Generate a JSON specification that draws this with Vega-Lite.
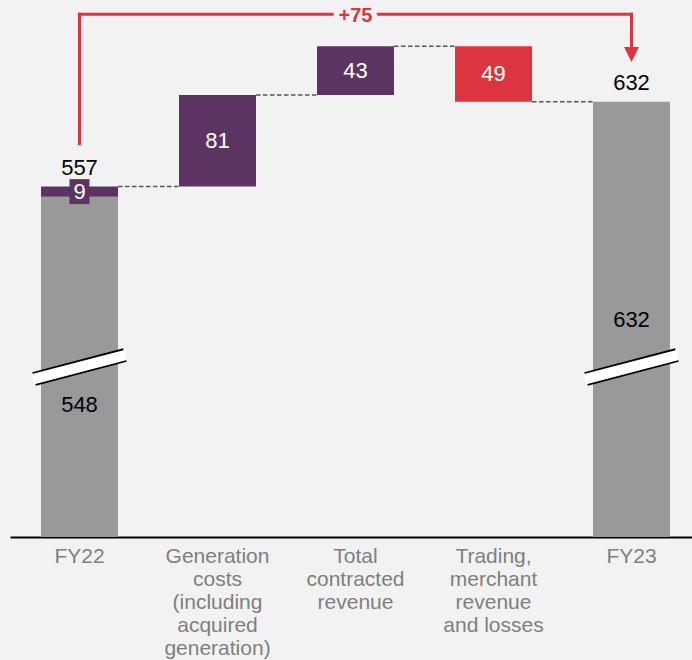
{
  "$schema": "https://vega.github.io/schema/vega-lite/v6.json",
  "width": 682,
  "height": 537,
  "autosize": {"type": "none"},
  "padding": {"left": 10, "top": 0, "right": 0, "bottom": 123},
  "background": "#f2f2f2",
  "config": {"view": {"stroke": null}, "font": "Liberation Sans"},
  "datasets": {
    "bars": [
      {"step": 1, "cat": "FY22", "start": 0, "end": 548, "amount": 548, "kind": "total"},
      {"step": 2, "cat": "FY22", "start": 548, "end": 557, "amount": 9, "kind": "up"},
      {"step": 3, "cat": "Generation\ncosts\n(including\nacquired\ngeneration)", "start": 557, "end": 638, "amount": 81, "kind": "up"},
      {"step": 4, "cat": "Total\ncontracted\nrevenue", "start": 638, "end": 681, "amount": 43, "kind": "up"},
      {"step": 5, "cat": "Trading,\nmerchant\nrevenue\nand losses", "start": 681, "end": 632, "amount": 49, "kind": "down"},
      {"step": 6, "cat": "FY23", "start": 0, "end": 632, "amount": 632, "kind": "total"}
    ],
    "change": [
      {"from": "FY22", "to": "FY23", "label": "+75"}
    ]
  },
  "layer": [
    {
      "data": {"name": "bars"},
      "mark": {"type": "bar"},
      "encoding": {
        "x": {
          "field": "cat", "type": "nominal", "title": null,
          "scale": {
            "domain": ["FY22", "Generation\ncosts\n(including\nacquired\ngeneration)", "Total\ncontracted\nrevenue", "Trading,\nmerchant\nrevenue\nand losses", "FY23"],
            "paddingInner": 0.442, "paddingOuter": 0.192, "align": 0.585, "round": false
          },
          "axis": {
            "domainColor": "#000000", "domainWidth": 2, "ticks": false, "labelAngle": 0,
            "labelFont": "Liberation Sans", "labelFontSize": 21, "labelLineHeight": 23,
            "labelColor": "#7f7f7f", "labelPadding": 8, "labelExpr": "split(datum.value, '\\n')",
            "labelLimit": 0, "labelOverlap": false, "labelBaseline": "top"
          }
        },
        "y": {"field": "start", "type": "quantitative", "title": null, "axis": null,
              "scale": {"domain": [247, 722], "clamp": true, "zero": false, "nice": false}},
        "y2": {"field": "end"},
        "color": {"field": "kind", "type": "nominal", "legend": null,
                  "scale": {"domain": ["total", "up", "down"], "range": ["#999999", "#5c3462", "#de3440"]}}
      }
    },
    {
      "data": {"name": "bars"},
      "transform": [{"filter": "datum.step == 2"}, {"calculate": "(datum.start + datum.end) / 2", "as": "mid"}],
      "mark": {"type": "point", "filled": true, "shape": "M-1,-1.25L1,-1.25L1,1.25L-1,1.25Z", "size": 400, "color": "#5c3462", "opacity": 1, "strokeWidth": 0},
      "encoding": {
        "x": {"field": "cat", "type": "nominal", "title": null},
        "y": {"field": "mid", "type": "quantitative", "axis": null, "title": null}
      }
    },
    {
      "data": {"name": "bars"},
      "transform": [
        {"filter": "datum.step != 1"},
        {"window": [{"op": "lead", "field": "cat", "as": "next"}], "sort": [{"field": "step"}]},
        {"filter": "datum.next != null"}
      ],
      "mark": {"type": "rule", "color": "#555555", "strokeWidth": 1.5, "strokeDash": [4.5, 2.5]},
      "encoding": {
        "x": {"field": "cat", "type": "nominal", "title": null, "bandPosition": 1},
        "x2": {"field": "next", "bandPosition": 0},
        "y": {"field": "end", "type": "quantitative", "axis": null, "title": null}
      }
    },
    {
      "data": {"name": "bars"},
      "transform": [{"filter": "datum.kind != 'total'"}, {"calculate": "(datum.start + datum.end) / 2", "as": "mid"}],
      "mark": {"type": "text", "color": "#ffffff", "fontSize": 22, "font": "Liberation Sans", "baseline": "middle"},
      "encoding": {
        "x": {"field": "cat", "type": "nominal", "title": null},
        "y": {"field": "mid", "type": "quantitative", "axis": null, "title": null},
        "text": {"field": "amount", "type": "quantitative"}
      }
    },
    {
      "data": {"name": "bars"},
      "transform": [
        {"filter": "datum.cat == 'FY22' || datum.cat == 'FY23'"},
        {"aggregate": [{"op": "max", "field": "end", "as": "total"}], "groupby": ["cat"]}
      ],
      "mark": {"type": "text", "color": "#000000", "fontSize": 22, "font": "Liberation Sans", "baseline": "alphabetic", "dy": -11.5},
      "encoding": {
        "x": {"field": "cat", "type": "nominal", "title": null},
        "y": {"field": "total", "type": "quantitative", "axis": null, "title": null},
        "text": {"field": "total", "type": "quantitative"}
      }
    },
    {
      "data": {"name": "bars"},
      "transform": [{"filter": "datum.step == 1"}],
      "mark": {"type": "text", "color": "#000000", "fontSize": 22, "font": "Liberation Sans", "baseline": "middle", "dy": 38},
      "encoding": {
        "x": {"field": "cat", "type": "nominal", "title": null},
        "y": {"datum": 397.5, "type": "quantitative", "axis": null, "title": null},
        "text": {"field": "amount", "type": "quantitative"}
      }
    },
    {
      "data": {"name": "bars"},
      "transform": [{"filter": "datum.step == 6"}],
      "mark": {"type": "text", "color": "#000000", "fontSize": 22, "font": "Liberation Sans", "baseline": "middle", "dy": -47},
      "encoding": {
        "x": {"field": "cat", "type": "nominal", "title": null},
        "y": {"datum": 397.5, "type": "quantitative", "axis": null, "title": null},
        "text": {"field": "amount", "type": "quantitative"}
      }
    },
    {
      "data": {"name": "bars"},
      "transform": [{"filter": "datum.kind == 'total'"}],
      "mark": {"type": "rule", "color": "#000000", "strokeWidth": 14},
      "encoding": {
        "x": {"field": "cat", "type": "nominal", "title": null, "bandPosition": -0.09},
        "x2": {"field": "cat", "bandPosition": 1.09},
        "y": {"datum": 386.7, "type": "quantitative", "axis": null, "title": null},
        "y2": {"datum": 408}
      }
    },
    {
      "data": {"name": "bars"},
      "transform": [{"filter": "datum.kind == 'total'"}],
      "mark": {"type": "rule", "color": "#ffffff", "strokeWidth": 10.5},
      "encoding": {
        "x": {"field": "cat", "type": "nominal", "title": null, "bandPosition": -0.1},
        "x2": {"field": "cat", "bandPosition": 1.1},
        "y": {"datum": 386.7, "type": "quantitative", "axis": null, "title": null},
        "y2": {"datum": 408}
      }
    },
    {
      "data": {"name": "change"},
      "mark": {"type": "rule", "color": "#e03340", "strokeWidth": 3, "strokeCap": "square"},
      "encoding": {
        "x": {"field": "from", "type": "nominal", "title": null},
        "y": {"datum": 595, "type": "quantitative", "axis": null, "title": null},
        "y2": {"datum": 709.4}
      }
    },
    {
      "data": {"name": "change"},
      "mark": {"type": "rule", "color": "#e03340", "strokeWidth": 3, "strokeCap": "square"},
      "encoding": {
        "x": {"field": "from", "type": "nominal", "title": null, "bandPosition": 0.5},
        "x2": {"field": "to", "bandPosition": 0.5},
        "y": {"datum": 709.4, "type": "quantitative", "axis": null, "title": null}
      }
    },
    {
      "data": {"name": "change"},
      "mark": {"type": "rule", "color": "#e03340", "strokeWidth": 3, "strokeCap": "square"},
      "encoding": {
        "x": {"field": "to", "type": "nominal", "title": null},
        "y": {"datum": 709.4, "type": "quantitative", "axis": null, "title": null},
        "y2": {"datum": 678}
      }
    },
    {
      "data": {"name": "change"},
      "mark": {"type": "point", "filled": true, "shape": "M-1,-1L1,-1L0,1Z", "size": 225, "color": "#e03340", "opacity": 1, "strokeWidth": 0},
      "encoding": {
        "x": {"field": "to", "type": "nominal", "title": null},
        "y": {"datum": 673.8, "type": "quantitative", "axis": null, "title": null}
      }
    },
    {
      "data": {"name": "change"},
      "mark": {"type": "text", "color": "#e03340", "stroke": "#f2f2f2", "strokeWidth": 11, "fontSize": 20, "fontWeight": "bold", "font": "Liberation Sans", "baseline": "middle", "dy": 1.5},
      "encoding": {
        "x": {"datum": "Total\ncontracted\nrevenue", "type": "nominal", "title": null},
        "y": {"datum": 709.4, "type": "quantitative", "axis": null, "title": null},
        "text": {"field": "label"}
      }
    },
    {
      "data": {"name": "change"},
      "mark": {"type": "text", "color": "#e03340", "fontSize": 20, "fontWeight": "bold", "font": "Liberation Sans", "baseline": "middle", "dy": 1.5},
      "encoding": {
        "x": {"datum": "Total\ncontracted\nrevenue", "type": "nominal", "title": null},
        "y": {"datum": 709.4, "type": "quantitative", "axis": null, "title": null},
        "text": {"field": "label"}
      }
    }
  ]
}
